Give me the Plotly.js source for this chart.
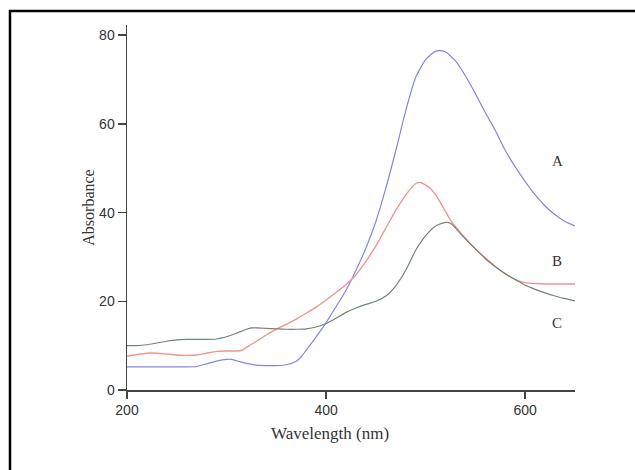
<!DOCTYPE html>
<html>
<head>
<meta charset="utf-8">
<script src="https://cdn.plot.ly/plotly-3.0.1.min.js"></script>
<style>html,body{margin:0;padding:0;background:#fff;}#chart{width:635px;height:470px;}</style>
</head>
<body>
<div id="chart"></div>
<script>
// Wavelength (nm) and absorbance readings
const wlA = [200,210,220,230,240,250,260,270,280,290,300,305,310,320,330,340,350,360,370,375,380,390,400,410,420,430,440,450,460,470,480,490,500,510,515,520,530,540,550,560,570,580,590,600,610,620,630,640,650];
const absA = [5.2,5.2,5.2,5.2,5.2,5.2,5.2,5.3,5.9,6.5,6.9,6.9,6.6,6.0,5.6,5.5,5.5,5.7,6.5,7.5,9.0,12.0,15.2,18.8,22.5,27,32,38,45.5,54,63,70.5,74.5,76.4,76.5,76.2,74.2,70.8,66.8,62.5,58.5,54,50.3,47,44,41.5,39.5,38,37];

const wlB = [200,210,220,230,240,250,260,270,280,290,300,310,315,320,330,340,350,360,370,380,390,400,410,420,430,440,450,460,470,480,490,495,500,505,510,515,520,525,530,540,550,560,570,580,590,600,610,620,630,640,650];
const absB = [7.6,8.0,8.3,8.3,8.1,7.9,7.8,7.9,8.3,8.7,8.8,8.8,8.9,9.6,11,12.4,13.7,14.8,16,17.3,18.7,20.3,22,23.8,26,29,32.5,36.5,40.5,44,46.5,46.8,46.2,45.4,44.0,42.2,40.2,38.3,36.8,34.2,31.8,29.8,27.8,26.2,24.9,24.2,24.0,23.9,23.9,23.9,23.9];

const wlC = [200,210,220,230,240,250,260,270,280,290,300,310,320,325,330,340,350,360,370,380,390,400,410,420,430,440,450,460,470,480,490,500,510,520,525,530,540,550,560,570,580,590,600,610,620,630,640,650];
const absC = [10.0,10.0,10.2,10.6,11.0,11.3,11.4,11.4,11.4,11.5,12.0,12.8,13.7,14.0,14.0,13.9,13.8,13.7,13.7,13.8,14.2,15.0,16.2,17.5,18.5,19.3,20.0,21.2,23.5,27,31.5,34.8,37,37.8,37.6,36.5,34,31.8,29.6,27.8,26.2,24.9,23.6,22.7,21.9,21.2,20.6,20.1];

const seriesNames = ['A','B','C'];
const labelX = [632, 632, 632];
const labelY = [51.6, 29.2, 15.2];
const xTicks = [200, 400, 600];
const yTicks = [0, 20, 40, 60, 80];

const W = 635, H = 470;
const M = {l:127, r:60, t:25, b:80};
const pw = W - M.l - M.r, ph = H - M.t - M.b;
const px2x = p => (p - M.l) / pw;
const py2y = p => (H - M.b - p) / ph;

const serif = 'Liberation Serif, Times New Roman, serif';
const sans = 'Liberation Sans, Arial, sans-serif';

const traces = [
  {x: wlA, y: absA, name: 'A', mode: 'lines', line: {color: '#8585e2', width: 1.2, shape: 'spline', smoothing: 0.6}},
  {x: wlB, y: absB, name: 'B', mode: 'lines', line: {color: '#f09494', width: 1.4, shape: 'spline', smoothing: 0.6}},
  {x: wlC, y: absC, name: 'C', mode: 'lines', line: {color: '#748474', width: 1.2, shape: 'spline', smoothing: 0.6}}
];

const annotations = seriesNames.map((n, i) => ({
  x: labelX[i], y: labelY[i], xref: 'x', yref: 'y', text: n, showarrow: false,
  font: {family: serif, size: 15, color: '#333'}
}));
annotations.push({
  x: 404, y: py2y(433), xref: 'x', yref: 'paper', yanchor: 'middle', xanchor: 'center',
  text: 'Wavelength (nm)', showarrow: false,
  font: {family: serif, size: 17, color: '#333'}
});

const layout = {
  width: W, height: H,
  margin: M,
  paper_bgcolor: '#fff', plot_bgcolor: '#fff',
  showlegend: false,
  xaxis: {
    range: [200, 650], tickvals: xTicks, ticktext: xTicks.map(String),
    showgrid: false, zeroline: false, showline: true, linecolor: '#444', linewidth: 1.5,
    ticks: 'outside', ticklen: 7, tickcolor: '#444', tickwidth: 1.5,
    tickfont: {family: sans, size: 14, color: '#333'}
  },
  yaxis: {
    range: [0, 82.3], tickvals: yTicks, ticktext: yTicks.map(String),
    showgrid: false, zeroline: false, showline: true, linecolor: '#444', linewidth: 1.5,
    ticks: 'outside', ticklen: 8, tickcolor: '#444', tickwidth: 1.5,
    tickfont: {family: sans, size: 14, color: '#333'},
    title: {text: 'Absorbance', font: {family: serif, size: 16, color: '#333'}, standoff: 0}
  },
  annotations: annotations,
  shapes: [
    {type: 'line', xref: 'paper', yref: 'paper', x0: px2x(10), x1: px2x(10), y0: py2y(10), y1: py2y(470), line: {color: '#000', width: 2.5}},
    {type: 'line', xref: 'paper', yref: 'paper', x0: px2x(9), x1: px2x(640), y0: py2y(11), y1: py2y(11), line: {color: '#000', width: 2.5}}
  ]
};

Plotly.newPlot('chart', traces, layout, {displayModeBar: false, staticPlot: true});
</script>
</body>
</html>
